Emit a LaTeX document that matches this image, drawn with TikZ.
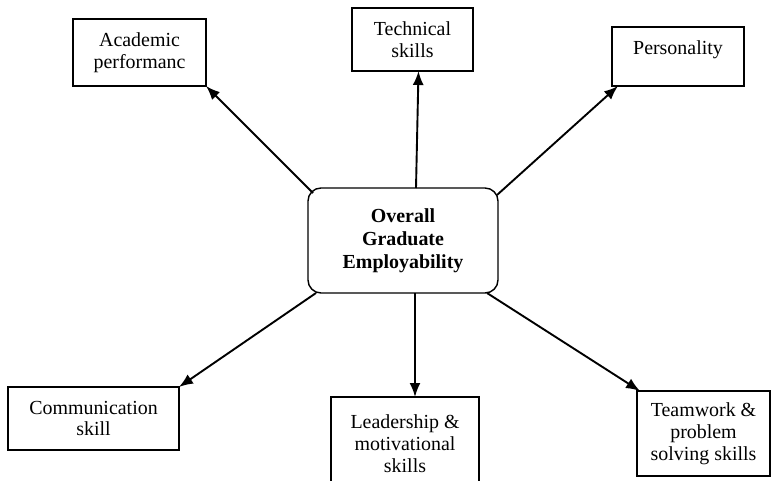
\documentclass[tikz,border=0pt]{standalone}
\usepackage{fontspec}
\setmainfont{Liberation Serif}
\usetikzlibrary{arrows.meta}
\tikzset{
  factor/.style={draw, line width=1.2bp, inner sep=0pt, outer sep=0pt, align=center,
    font=\fontsize{20}{22}\selectfont},
  hub/.style={factor, rounded corners=13bp, line width=1.4bp,
    font=\fontsize{20}{23}\selectfont\bfseries},
  link/.style={->, line width=1.9bp}
}
\begin{document}
\begin{tikzpicture}[x=1bp, y=-1bp, >={Latex[length=14bp,width=11bp]}]
    \useasboundingbox (0,0) rectangle (771,481);

    % Centre
    \node[hub, minimum width=190bp, minimum height=105bp] (ovr) at (403,240.5)
        {Overall\\Graduate\\Employability};

    % Upper row
    \node[factor, minimum width=133bp, minimum height=67bp] (acad) at (139.5,52.5)
        {Academic\\performanc};
    \node[factor, minimum width=121bp, minimum height=63bp] (tech) at (412.5,39.5)
        {Technical\\skills};
    \node[factor, minimum width=132bp, text height=28bp, text depth=31bp] (pers) at (678,56.5)
        {Personality};

    % Lower row
    \node[factor, minimum width=171bp, minimum height=63bp] (comm) at (93.5,418.5)
        {Communication\\skill};
    \node[factor, minimum width=148bp, minimum height=93bp] (lead) at (405,443.5)
        {Leadership \&\\motivational\\skills};
    \node[factor, minimum width=133bp, minimum height=85bp] (team) at (703.5,433.5)
        {Teamwork \&\\problem\\solving skills};

    % Links
    \draw[link] ([shift={(5,5)}]ovr.north west) -- (acad.south east);
    \draw[link] ([shift={(13,0)}]ovr.north) -- ([shift={(6,0)}]tech.south);
    \draw[link] ([shift={(-1,7)}]ovr.north east) -- ([shift={(6,0)}]pers.south west);
    \draw[link] ([shift={(8,0)}]ovr.south west) -- (comm.north east);
    \draw[link] ([shift={(12,0)}]ovr.south) -- ([shift={(10,0)}]lead.north);
    \draw[link] ([shift={(-11,0)}]ovr.south east) -- ([shift={(3,0)}]team.north west);
\end{tikzpicture}
\end{document}
